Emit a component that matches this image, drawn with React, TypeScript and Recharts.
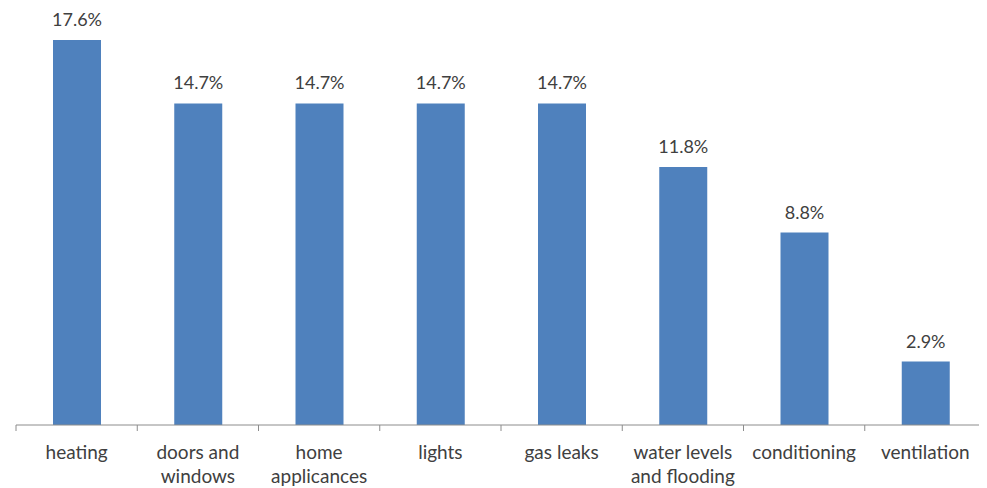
import { BarChart, Bar, XAxis, YAxis, LabelList } from 'recharts';

// categories (line breaks mark where the axis label wraps)
const categories = [
    'heating',
    'doors and\nwindows',
    'home\napplicances',
    'lights',
    'gas leaks',
    'water levels\nand flooding',
    'conditioning',
    'ventilation',
];
const shares = [17.6, 14.7, 14.7, 14.7, 14.7, 11.8, 8.8, 2.9];

const data = categories.map((name, i) => ({ name, value: shares[i] }));

const WIDTH = 979;
const HEIGHT = 480;
const MARGIN = { top: 32, right: 1, bottom: 0, left: 8 };
const BAND = (WIDTH - MARGIN.left - MARGIN.right) / categories.length;
const FONT = 'Lato, "Open Sans", sans-serif';
const TEXT = '#404040';
const AXIS = '#8c8c8c';

// tick marks sit on the category boundaries, label centred below
const CategoryTick = ({ x, y, payload, index }: any) => {
    const lines = String(payload.value).split('\n');
    const left = x - BAND / 2;
    const right = x + BAND / 2;
    return (
        <g>
            <line x1={left} x2={left} y1={y} y2={y + 6} stroke={AXIS} />
            {index === categories.length - 1 && (
                <line x1={right} x2={right} y1={y} y2={y + 6} stroke={AXIS} />
            )}
            <text x={x} y={y + 34} textAnchor="middle" fill={TEXT} fontSize={19} fontFamily={FONT}>
                {lines.map((l, i) => (
                    <tspan key={i} x={x} dy={i === 0 ? 0 : 24}>{l}</tspan>
                ))}
            </text>
        </g>
    );
};

export default function App() {
    return (
        <div style={{ width: WIDTH, height: HEIGHT, background: '#fff' }}>
            <BarChart width={WIDTH} height={HEIGHT} data={data} margin={MARGIN}>
                <XAxis
                    dataKey="name"
                    height={63}
                    interval={0}
                    axisLine={{ stroke: AXIS }}
                    tickLine={false}
                    tickSize={0}
                    tickMargin={0}
                    tick={<CategoryTick />}
                />
                <YAxis hide domain={[0, 17.6]} />
                <Bar dataKey="value" fill="#4F81BD" barSize={48} isAnimationActive={false}>
                    <LabelList
                        dataKey="value"
                        position="top"
                        offset={14}
                        formatter={(v: any) => `${Number(v).toFixed(1)}%`}
                        fill={TEXT}
                        fontSize={18}
                        fontFamily={FONT}
                    />
                </Bar>
            </BarChart>
        </div>
    );
}
